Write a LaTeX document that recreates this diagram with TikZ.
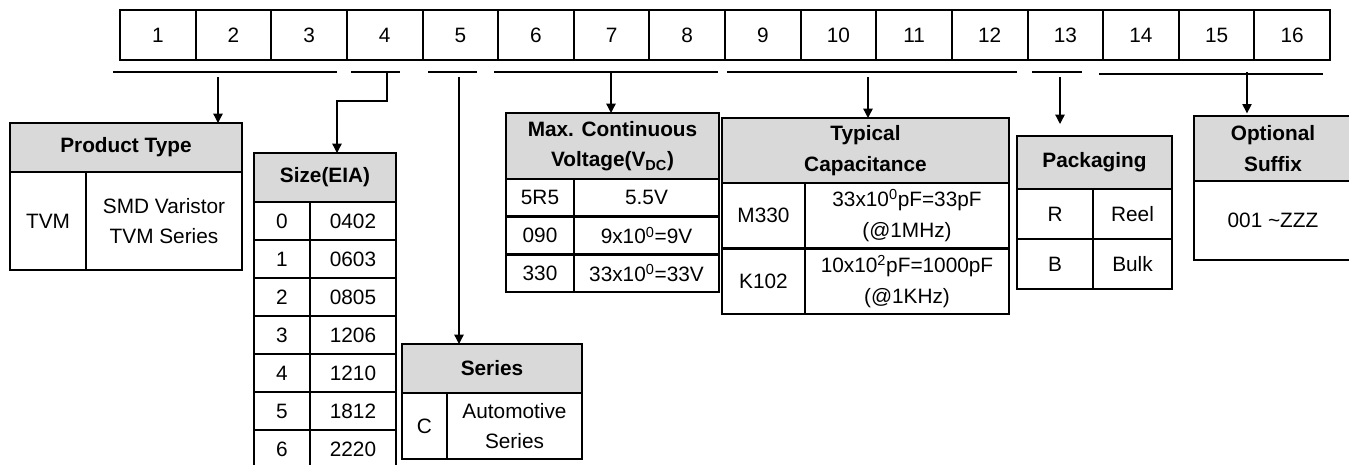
\documentclass[tikz,border=0pt]{standalone}
\usepackage{fontspec}
\setmainfont{Liberation Sans}
\usepackage{xcolor}
\usetikzlibrary{arrows.meta, positioning, calc}
\definecolor{hdrgray}{HTML}{D9D9D9}
\newdimen\px \px=0.75pt

\begin{document}
\begin{tikzpicture}[x=0.75pt, y=-0.75pt,
  every node/.style={font=\fontsize{15.6}{23}\selectfont, inner sep=0pt, outer sep=0pt},
  cell/.style={draw, line width=2pt, align=center},
  hdr/.style={cell, fill=hdrgray, font=\fontsize{15.6}{23}\selectfont\bfseries},
  digit/.style={draw, line width=1.5pt, minimum width=75.625\px, minimum height=50\px},
  under/.style={line width=1.2pt},
  arr/.style={line width=1pt, -{Triangle[width=7pt,length=7pt]}}]
  \useasboundingbox (0,0) rectangle (1349,464);
  \clip (0,0) rectangle (1349,464);

  \foreach \i in {1,...,16}
    \node[digit] (d\i) at ({120+75.625*(\i-0.5)},35) {\i};

  \draw[under] (113,72) -- (337,72);
  \draw[under] (351,72) -- (400,72);
  \draw[under] (428,72) -- (477,72);
  \draw[under] (494,72) -- (718,72);
  \draw[under] (727,72) -- (1017,72);
  \draw[under] (1032,72) -- (1082,72);
  \draw[under] (1099,74) -- (1323,74);

  \coordinate (s1) at (218,77);
  \coordinate (s2) at (387,72);
  \coordinate (s2b) at (337,101);
  \coordinate (s3) at (459,77);
  \coordinate (s4) at (611,72);
  \coordinate (s5) at (868,77);
  \coordinate (s6) at (1060,77);
  \coordinate (s7) at (1247,72);

  % product type
  \node[hdr, minimum width=232\px, minimum height=49\px] (ptH) at (126,147.5) {Product Type};
  \node[cell, minimum width=76\px, minimum height=98\px] (ptK) at (48,221) {TVM};
  \node[cell, minimum width=156\px, minimum height=98\px] (ptD) at (164,221) {SMD Varistor\\TVM Series};

  % size
  \node[hdr, minimum width=142\px, minimum height=49\px] (szH) at (325,177.5) {Size(EIA)};
  \foreach \k/\v [count=\r from 0] in {0/0402,1/0603,2/0805,3/1206,4/1210,5/1812,6/2220} {
    \node[cell, minimum width=56\px, minimum height=38\px] (szK\r) at (282,{221+38*\r}) {\k};
    \node[cell, minimum width=86\px, minimum height=38\px] (szV\r) at (353,{221+38*\r}) {\v};
  }

  % series
  \node[hdr, minimum width=180\px, minimum height=49\px] (srH) at (492,368.5) {Series};
  \node[cell, minimum width=45\px, minimum height=66\px] (srK) at (424.5,426) {C};
  \node[cell, minimum width=135\px, minimum height=66\px] (srD) at (514.5,426) {Automotive\\Series};

  % voltage
  \node[hdr, minimum width=213\px, minimum height=66\px] (vtH) at (612.5,146) {Max. Continuous\\Voltage(V\textsubscript{DC})};
  \foreach \k/\v [count=\r from 0] in {5R5/5.5V,
      090/9x10\textsuperscript{0}=9V,
      330/33x10\textsuperscript{0}=33V} {
    \node[cell, minimum width=68\px, minimum height=37.67\px] (vtK\r) at (540,{197.83+37.67*\r}) {\k};
    \node[cell, minimum width=145\px, minimum height=37.67\px] (vtV\r) at (646.5,{197.83+37.67*\r}) {\v};
  }

  % capacitance
  \node[hdr, minimum width=287\px, minimum height=65\px] (cpH) at (865.5,150.5) {Typical\\Capacitance};
  \node[cell, minimum width=83\px, minimum height=65.5\px] (cpK0) at (763.5,215.75) {M330};
  \node[cell, minimum width=204\px, minimum height=65.5\px] (cpV0) at (907,215.75) {33x10\textsuperscript{0}pF=33pF\\(@1MHz)};
  \node[cell, minimum width=83\px, minimum height=65.5\px] (cpK1) at (763.5,281.25) {K102};
  \node[cell, minimum width=204\px, minimum height=65.5\px] (cpV1) at (907,281.25) {10x10\textsuperscript{2}pF=1000pF\\(@1KHz)};

  % packaging
  \node[hdr, minimum width=155\px, minimum height=53\px] (pkH) at (1094.5,162.5) {Packaging};
  \node[cell, minimum width=76\px, minimum height=50\px] (pkK0) at (1055,214) {R};
  \node[cell, minimum width=79\px, minimum height=50\px] (pkV0) at (1132.5,214) {Reel};
  \node[cell, minimum width=76\px, minimum height=50\px] (pkK1) at (1055,264) {B};
  \node[cell, minimum width=79\px, minimum height=50\px] (pkV1) at (1132.5,264) {Bulk};

  % suffix
  \node[hdr, minimum width=158\px, minimum height=65\px] (sfH) at (1273,148.5) {Optional\\Suffix};
  \node[cell, minimum width=158\px, minimum height=79\px] (sfB) at (1273,220.5) {001 \textasciitilde{}ZZZ};

  \draw[arr] (s1) -- (s1 |- ptH.north);
  \draw[arr] (s2) |- (s2b) -- (s2b |- szH.north);
  \draw[arr] (s3) -- (s3 |- srH.north);
  \draw[arr] (s4) -- (s4 |- vtH.north);
  \draw[arr] (s5) -- (s5 |- cpH.north);
  \draw[arr, shorten >=9pt] (s6) -- (s6 |- pkH.north);
  \draw[arr, shorten >=2pt] (s7) -- (s7 |- sfH.north);
\end{tikzpicture}
\end{document}
